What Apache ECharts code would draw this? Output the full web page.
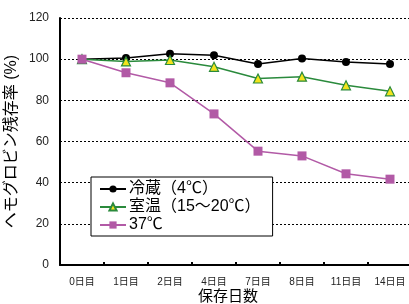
<!DOCTYPE html>
<html>
<head>
<meta charset="utf-8">
<script src="https://cdn.jsdelivr.net/npm/echarts@6/dist/echarts.min.js"></script>
<style>
  html, body { margin: 0; padding: 0; background: #fff; }
  #chart { width: 409px; height: 304px; }
</style>
</head>
<body>
<div id="chart"></div>
<script>
const days = ['0日目', '1日目', '2日目', '4日目', '7日目', '8日目', '11日目', '14日目'];
const yTicks = [0, 20, 40, 60, 80, 100, 120];

const cold = [100, 100.6, 102.6, 101.9, 97.6, 100.3, 98.6, 97.7];
const room = [100, 98.9, 99.6, 96.3, 90.6, 91.5, 87.3, 84.4];
const warm = [100, 93.4, 88.5, 73.4, 55.3, 53.0, 44.3, 41.7];

const font = '"Liberation Sans", "Noto Sans CJK JP", sans-serif';

const chart = echarts.init(document.getElementById('chart'));

const option = {
  animation: false,
  textStyle: { fontFamily: font },
  grid: { left: 60, top: 18, width: 352, height: 247, outerBoundsMode: 'none', containLabel: false },
  legend: {
    left: 91,
    top: 177,
    orient: 'vertical',
    itemGap: 2,
    itemWidth: 26,
    itemHeight: 9,
    padding: [4, 12, 3, 8],
    borderColor: '#000',
    borderWidth: 1,
    backgroundColor: '#fff',
    textStyle: { fontSize: 16, color: '#000', fontFamily: font, padding: [0, 0, 0, -2] },
    data: ['冷蔵（4℃）', '室温（15～20℃）', '37℃']
  },
  xAxis: {
    type: 'category',
    data: days,
    boundaryGap: true,
    name: '保存日数',
    nameLocation: 'middle',
    nameGap: 24,
    nameMoveOverlap: false,
    nameTextStyle: { fontSize: 15, color: '#000', fontFamily: font, padding: [0, 16, 0, 0] },
    axisLine: { lineStyle: { color: '#000', width: 2 } },
    axisTick: { show: true, inside: true, length: 3, lineStyle: { color: '#000', width: 2 } },
    axisLabel: { fontSize: 10, color: '#222', margin: 12, fontFamily: font }
  },
  yAxis: {
    type: 'value',
    min: yTicks[0],
    max: yTicks[yTicks.length - 1],
    interval: 20,
    name: 'ヘモグロビン残存率 (%)',
    nameLocation: 'middle',
    nameGap: 40,
    nameMoveOverlap: false,
    nameTextStyle: { fontSize: 16, color: '#000', fontFamily: font },
    axisLine: { show: true, lineStyle: { color: '#000', width: 2 } },
    axisTick: { show: false },
    axisLabel: { fontSize: 12, color: '#222', margin: 11, fontFamily: font },
    splitLine: { lineStyle: { color: '#000', type: [2, 2], width: 1 } }
  },
  series: [
    {
      name: '冷蔵（4℃）',
      type: 'line',
      data: cold,
      symbol: 'circle',
      symbolSize: 8,
      itemStyle: { color: '#000' },
      lineStyle: { color: '#000', width: 1.5 },
      z: 3
    },
    {
      name: '室温（15～20℃）',
      type: 'line',
      data: room,
      symbol: 'triangle',
      symbolSize: 9,
      itemStyle: { color: '#f2e41c', borderColor: '#2a8a3c', borderWidth: 1.2 },
      lineStyle: { color: '#2a8a3c', width: 1.5 },
      z: 4
    },
    {
      name: '37℃',
      type: 'line',
      data: warm,
      symbol: 'rect',
      symbolSize: 9,
      itemStyle: { color: '#b25aa6' },
      lineStyle: { color: '#b25aa6', width: 1.5 },
      z: 5
    }
  ]
};

chart.setOption(option);
</script>
</body>
</html>
